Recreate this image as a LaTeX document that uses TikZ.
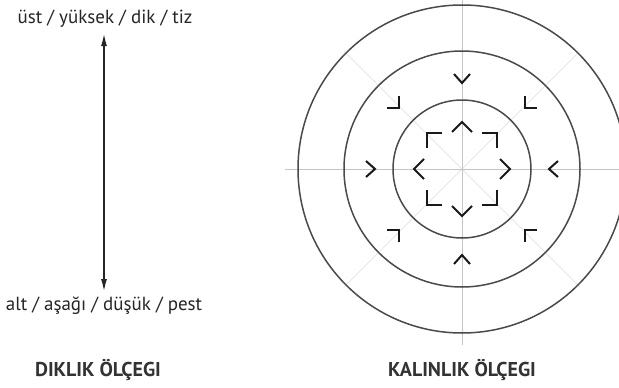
\documentclass[tikz,border=0pt]{standalone}
\usepackage{fontspec}
\setmainfont{PT Sans}
\usetikzlibrary{arrows.meta,calc}
\definecolor{ringgray}{HTML}{4A4A4A}
\definecolor{axisgray}{HTML}{C4C4C4}
\definecolor{diaggray}{HTML}{E6E6E6}
\tikzset{
  ring/.style={draw=ringgray, line width=1.5pt},
  axisline/.style={draw=axisgray, line width=0.9pt},
  diagline/.style={draw=diaggray, line width=0.9pt},
  marker/.style={draw=black!90, line width=2pt, line cap=butt, line join=miter},
  scalearrow/.style={draw=black!85, line width=1.8pt, {Latex[length=13pt,width=6pt]}-{Latex[length=13pt,width=6pt]}},
  labeltext/.style={font=\fontsize{19}{21}\selectfont, text=black!85, inner sep=0pt},
  titletext/.style={font=\fontsize{20}{22}\selectfont\bfseries, text=black!80, inner sep=0pt}
}
\begin{document}
\begin{tikzpicture}[x=1pt,y=-1pt]
\useasboundingbox (0,0) rectangle (619,388);
\fill[white] (0,0) rectangle (619,388);
% left scale
\node[labeltext] (top) at (105,19) {üst / yüksek / dik / tiz};
\node[labeltext] (bot) at (104,306) {alt / aşağı / düşük / pest};
\node[titletext] (t1) at (98,370) {DIKLIK ÖLÇEGI};
\coordinate (atop) at (104,33);
\coordinate (abot) at (104,292);
\draw[scalearrow] (atop) -- (abot);
% right scale
\coordinate (c) at (462,169);
\begin{scope}
\clip (0,0) rectangle (619,388);
\draw[diagline] ($(c)+(-118,-118)$) -- ($(c)+(118,118)$);
\draw[diagline] ($(c)+(118,-118)$) -- ($(c)+(-118,118)$);
\draw[axisline] (285,169) -- (619,169);
\draw[axisline] (462,0) -- (462,345);
\draw[ring] (c) circle[radius=164];
\draw[ring] (c) circle[radius=118];
\draw[ring] (c) circle[radius=69];
\end{scope}
\begin{scope}[shift={(c)}]
% outer markers pointing inward
\draw[marker] (-8,-95) -- (0,-86) -- (8,-95);
\draw[marker] (-8,95) -- (0,86) -- (8,95);
\draw[marker] (-96,-8) -- (-87,0) -- (-96,8);
\draw[marker] (96,-8) -- (87,0) -- (96,8);
\draw[marker] (-75,-61) -- (-63,-61) -- (-63,-73);
\draw[marker] (75,-61) -- (63,-61) -- (63,-73);
\draw[marker] (-75,61) -- (-63,61) -- (-63,73);
\draw[marker] (75,61) -- (63,61) -- (63,73);
% inner markers pointing outward
\draw[marker] (-10,-37) -- (0,-47) -- (10,-37);
\draw[marker] (-10,37) -- (0,47) -- (10,37);
\draw[marker] (-38,-10) -- (-48,0) -- (-38,10);
\draw[marker] (38,-10) -- (48,0) -- (38,10);
\draw[marker] (-20,-36) -- (-35,-36) -- (-35,-21);
\draw[marker] (20,-36) -- (35,-36) -- (35,-21);
\draw[marker] (-20,36) -- (-35,36) -- (-35,21);
\draw[marker] (20,36) -- (35,36) -- (35,21);
\end{scope}
\node[titletext] (t2) at (462,370) {KALINLIK ÖLÇEGI};
\end{tikzpicture}
\end{document}
